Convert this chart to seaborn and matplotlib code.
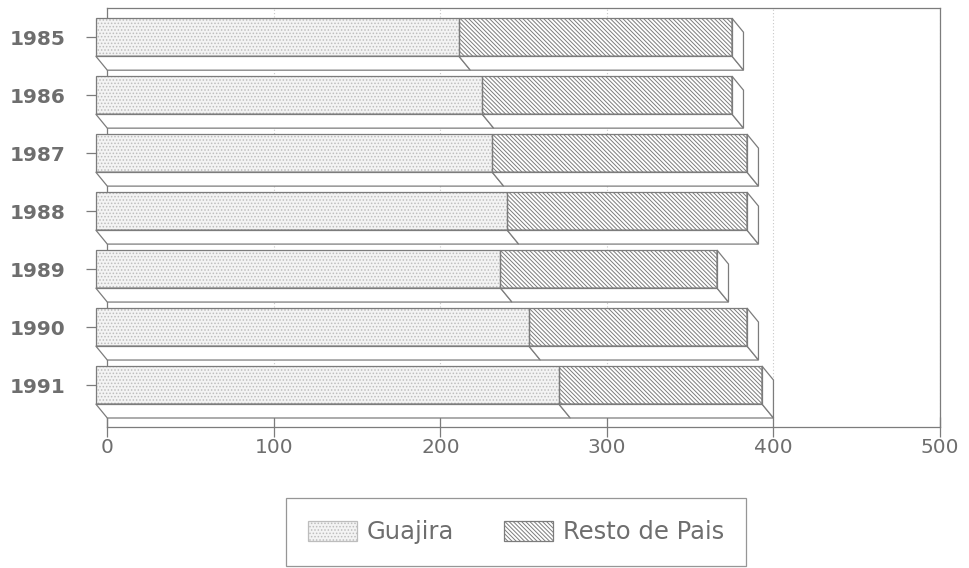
import numpy as np
import pandas as pd
import matplotlib
matplotlib.use("Agg")
import matplotlib.pyplot as plt
from matplotlib.patches import Polygon, Rectangle, Patch
from matplotlib.transforms import Affine2D
import seaborn as sns

# Production by year (thousand tonnes): Guajira and the rest of the country
years = ["1985", "1986", "1987", "1988", "1989", "1990", "1991"]
guajira = [218, 232, 238, 247, 243, 260, 278]
resto = [164, 150, 153, 144, 130, 131, 122]
xticks = [0, 100, 200, 300, 400, 500]
series_names = ["Guajira", "Resto de Pais"]

df = pd.DataFrame({"year": years, "guajira": guajira, "resto": resto})
df["total"] = df["guajira"] + df["resto"]

sns.set_style("white")
plt.rcParams["font.family"] = ["DejaVu Sans"]
plt.rcParams["hatch.linewidth"] = 0.7

LINE = "#7c7c7c"
TEXT = "#6e6e6e"
DOT = "#bdbdbd"
HATCH_DIAG = "\\" * 8
HATCH_DOT = "....."

W, H = 969, 568
fig = plt.figure(figsize=(W / 100, H / 100), dpi=100)
# axes box = back wall of the 3-D chart (pixel layout)
left, right, top, bottom = 107.3, 940, 8.3, 427.3
ax = fig.add_axes([left / W, 1 - bottom / H, (right - left) / W, (bottom - top) / H])

bar_w = 0.655
sns.barplot(data=df, x="total", y="year", orient="h", width=bar_w,
            color="white", edgecolor=LINE, hatch=HATCH_DIAG, linewidth=0,
            ax=ax, zorder=3)
n = len(years)
front_total = list(ax.patches[:n])
sns.barplot(data=df, x="guajira", y="year", orient="h", width=bar_w,
            color="#f3f3f3", edgecolor=DOT, hatch=HATCH_DOT, linewidth=0,
            ax=ax, zorder=3.1)
front_guaj = list(ax.patches[n:2 * n])

ax.set_xlim(0, 500)
ax.set_ylim(6.488, -0.740)

# depth of the extrusion in data units
px_x = (right - left) / 500.0
px_y = (bottom - top) / (6.488 + 0.740)
DX = 11.5 / px_x
DY = 14.0 / px_y
front_tr = Affine2D().translate(-DX, -DY) + ax.transData

for p in front_total + front_guaj:
    p.set_transform(front_tr)
    p.set_clip_on(False)

face_kw = dict(facecolor="white", edgecolor=LINE, linewidth=0.9, zorder=3.2,
               clip_on=False, joinstyle="miter")
for pt, pg in zip(front_total, front_guaj):
    y0 = pt.get_y()
    y1 = y0 + pt.get_height()
    t = pt.get_width()
    g = pg.get_width()
    # bottom faces (Guajira part, rest part)
    ax.add_patch(Polygon([(0 - DX, y1 - DY), (g - DX, y1 - DY), (g, y1), (0, y1)], **face_kw))
    ax.add_patch(Polygon([(g - DX, y1 - DY), (t - DX, y1 - DY), (t, y1), (g, y1)], **face_kw))
    # right end cap
    ax.add_patch(Polygon([(t - DX, y0 - DY), (t - DX, y1 - DY), (t, y1), (t, y0)], **face_kw))
    # outlines of the front faces
    ax.add_patch(Rectangle((0, y0), g, y1 - y0, fill=False, edgecolor=LINE,
                           linewidth=0.9, transform=front_tr, clip_on=False, zorder=3.3))
    ax.add_patch(Rectangle((g, y0), t - g, y1 - y0, fill=False, edgecolor=LINE,
                           linewidth=0.9, transform=front_tr, clip_on=False, zorder=3.3))

# back wall: frame and grid
for s in ax.spines.values():
    s.set_color(LINE)
    s.set_linewidth(0.9)
ax.set_axisbelow(True)
ax.grid(axis="x", color="#c8c8c8", linestyle=(0, (1, 2)), linewidth=0.8)
ax.grid(axis="y", visible=False)

ax.set_xticks(xticks, labels=[str(v) for v in xticks])
ax.set_yticks(np.arange(n) - DY, labels=years)
ax.tick_params(axis="x", bottom=True, direction="inout", length=15, width=0.9,
               color=LINE, labelsize=14.5, labelcolor=TEXT, pad=0)
ax.tick_params(axis="y", left=True, direction="out", length=15.3, width=0.9,
               color=LINE, labelsize=14.5, labelcolor=TEXT, pad=14.5)
for lab in ax.get_yticklabels():
    lab.set_fontweight("bold")
ax.set_xlabel("")
ax.set_ylabel("")

handles = [Patch(facecolor="#f3f3f3", edgecolor=DOT, hatch=HATCH_DOT, linewidth=0.9),
           Patch(facecolor="white", edgecolor=LINE, hatch=HATCH_DIAG, linewidth=0.9)]
leg = fig.legend(handles, series_names, loc="center",
                 bbox_to_anchor=(516 / W, 1 - 532 / H), ncol=2, fontsize=17.5,
                 frameon=True, fancybox=False, shadow=False,
                 handlelength=2.0, handleheight=0.9, handletextpad=0.42,
                 columnspacing=2.05, borderpad=0.92, borderaxespad=0)
leg.get_frame().set_edgecolor(LINE)
leg.get_frame().set_linewidth(0.9)
for txt in leg.get_texts():
    txt.set_color(TEXT)

fig.savefig("out.png", dpi=100)
